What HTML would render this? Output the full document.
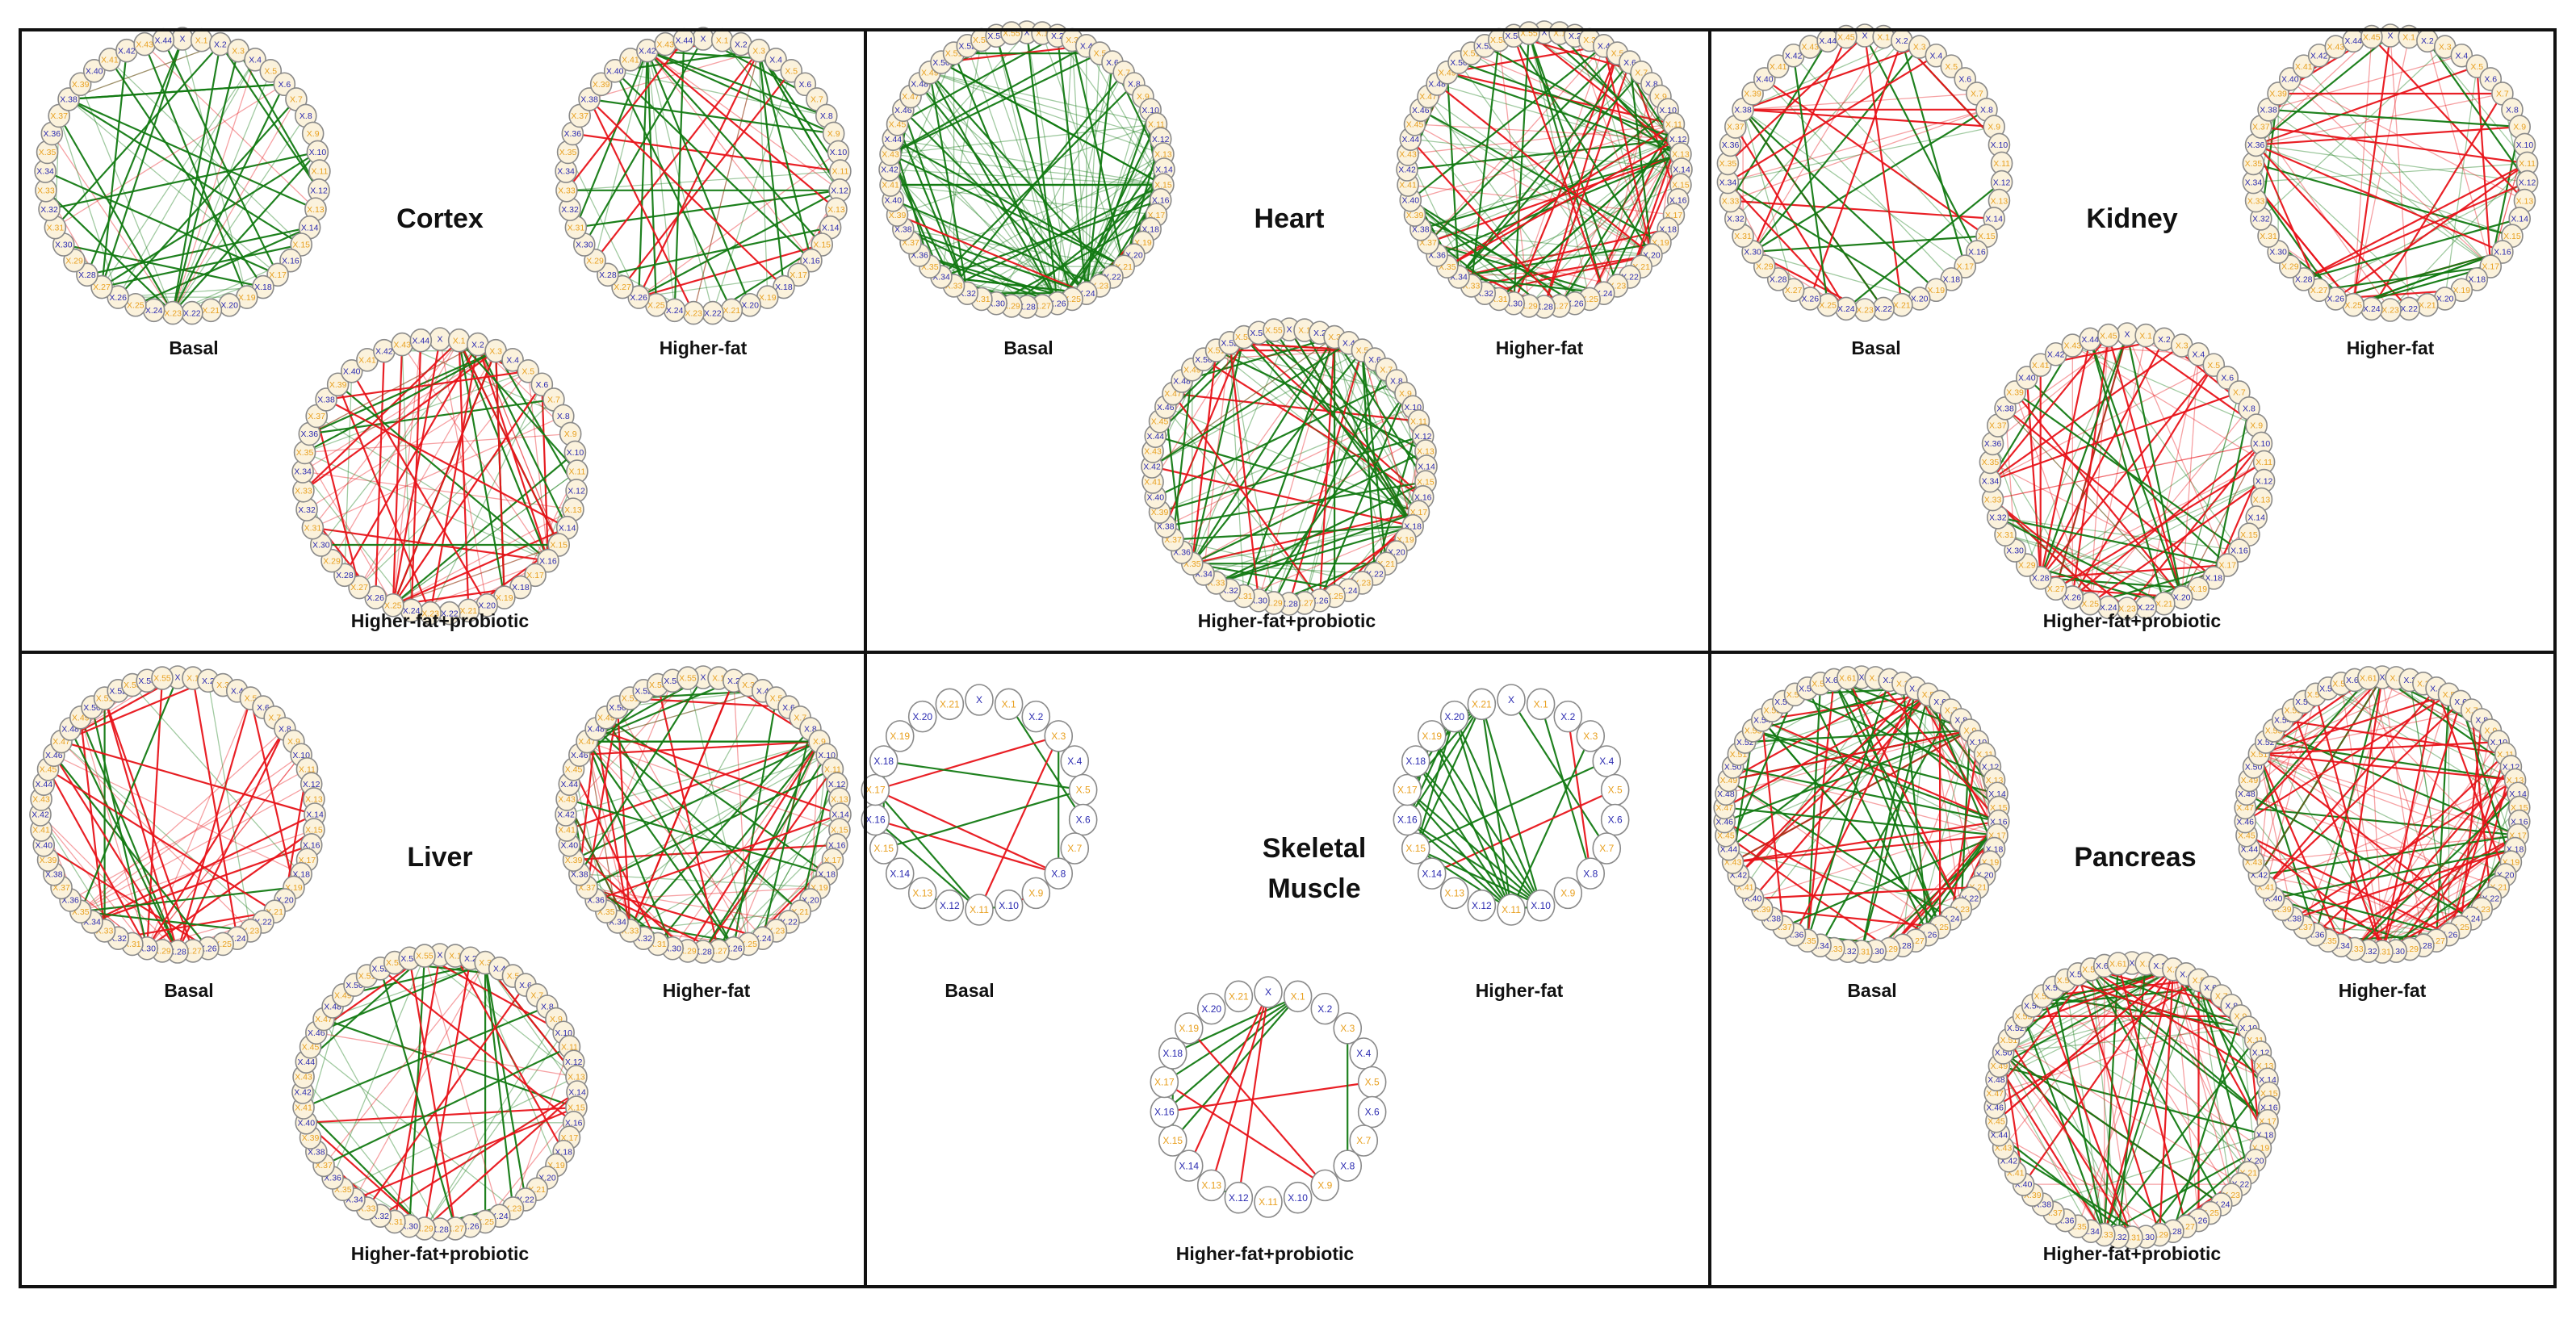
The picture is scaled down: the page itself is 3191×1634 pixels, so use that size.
<!DOCTYPE html>
<html><head><meta charset="utf-8"><style>
html,body{margin:0;padding:0;background:#fff}
svg{display:block}
text{font-family:"Liberation Sans",Arial,sans-serif}
</style></head><body>
<svg id="s" width="3191" height="1634" viewBox="0 0 3191 1634" xmlns="http://www.w3.org/2000/svg">
<rect width="3191" height="1634" fill="#fff"/>
<g id="edges"></g><g id="nodes"></g>
<g fill="none" stroke="#111" stroke-width="4">
<rect x="25" y="37" width="3140" height="1557"/>
<line x1="1072" y1="37" x2="1072" y2="1594"/>
<line x1="2118" y1="37" x2="2118" y2="1594"/>
<line x1="25" y1="808" x2="3165" y2="808"/>
</g>
<g font-weight="bold" text-anchor="middle" fill="#111">
<text x="545" y="282" font-size="34">Cortex</text>
<text x="1597" y="282" font-size="34">Heart</text>
<text x="2641" y="282" font-size="34">Kidney</text>
<text x="545" y="1073" font-size="34">Liver</text>
<text x="1628" y="1062" font-size="34">Skeletal</text>
<text x="1628" y="1112" font-size="34">Muscle</text>
<text x="2645" y="1073" font-size="34">Pancreas</text>
<g font-size="23">
<text x="240" y="439">Basal</text><text x="871" y="439">Higher-fat</text><text x="545" y="777">Higher-fat+probiotic</text>
<text x="1274" y="439">Basal</text><text x="1907" y="439">Higher-fat</text><text x="1594" y="777">Higher-fat+probiotic</text>
<text x="2324" y="439">Basal</text><text x="2961" y="439">Higher-fat</text><text x="2641" y="777">Higher-fat+probiotic</text>
<text x="234" y="1235">Basal</text><text x="875" y="1235">Higher-fat</text><text x="545" y="1561">Higher-fat+probiotic</text>
<text x="1201" y="1235">Basal</text><text x="1882" y="1235">Higher-fat</text><text x="1567" y="1561">Higher-fat+probiotic</text>
<text x="2319" y="1235">Basal</text><text x="2951" y="1235">Higher-fat</text><text x="2641" y="1561">Higher-fat+probiotic</text>
</g></g>
</svg>
<script>
(function(){
var NS="http://www.w3.org/2000/svg";
var E=document.getElementById("edges"),N=document.getElementById("nodes");
function mk(t,a,p){var e=document.createElementNS(NS,t);for(var k in a)e.setAttribute(k,a[k]);p.appendChild(e);return e;}
function rng(s){return function(){s|=0;s=s+0x6D2B79F5|0;var t=Math.imul(s^s>>>15,1|s);t=t+Math.imul(t^t>>>7,61|t)^t;return((t^t>>>14)>>>0)/4294967296;};}
function pos(cx,cy,R,n){var p=[];for(var i=0;i<n;i++){var a=-Math.PI/2+i*2*Math.PI/n;p.push([cx+R*Math.cos(a),cy+R*Math.sin(a)]);}return p;}
function line(a,b,col,w,op){mk("line",{x1:a[0].toFixed(1),y1:a[1].toFixed(1),x2:b[0].toFixed(1),y2:b[1].toFixed(1),stroke:col,"stroke-width":w,"stroke-opacity":op},E);}
function nodes(p,rx,ry,fill,fs){for(var i=0;i<p.length;i++){mk("ellipse",{cx:p[i][0],cy:p[i][1],rx:rx,ry:ry,fill:fill,stroke:"#8a8a8a","stroke-width":1.6},N);
var t=mk("text",{x:p[i][0],y:p[i][1]+fs*0.35,"font-size":fs,"text-anchor":"middle",fill:(i%2?"#e8a020":"#2a2ab0")},N);t.textContent=i?("X."+i):"X";}}
function net(cx,cy,n,m,red,seed,hubs){
var r=rng(seed),p=pos(cx,cy,170,n),h=[];for(var k=0;k<hubs;k++)h.push(Math.floor(r()*n));
for(var j=0;j<m;j++){var a=r()<0.6?h[Math.floor(r()*h.length)]:Math.floor(r()*n),b=Math.floor(r()*n);
if(Math.abs(a-b)<3)continue;var isr=r()<red,strong=r()<0.55;
line(p[a],p[b],isr?"#e8141a":"#137a13",strong?2.2:1.3,strong?0.95:0.4);}
nodes(p,13,14,"#fbf2dc",10.5);}
net(226,218,45,65,0.15,11,5);net(871,218,45,70,0.35,12,4);net(545,590,45,100,0.5,13,5);
net(1272,210,56,160,0.05,21,6);net(1913,210,56,140,0.4,22,5);net(1597,578,56,150,0.3,23,5);
net(2310,214,46,55,0.6,31,4);net(2961,214,46,85,0.5,32,5);net(2635,584,46,100,0.65,33,5);
net(220,1009,56,65,0.65,41,4);net(871,1009,56,120,0.5,42,5);net(545,1353,56,70,0.6,43,4);
net(2306,1009,62,140,0.5,51,6);net(2951,1009,62,140,0.6,52,6);net(2641,1363,62,140,0.5,53,6);
var G="#137a13",R="#e8141a";
function skel(cx,cy,ed){var p=pos(cx,cy,130,22);ed.forEach(function(e){line(p[e[0]],p[e[1]],e[2]?R:G,2.2,0.95);});nodes(p,17,19,"#fff",12);}
skel(1213,997,[[19,20],[1,6],[3,17,1],[3,11,1],[3,8],[3,4],[18,5],[18,15],[17,16],[17,8,1],[17,11],[16,8,1],[15,5],[16,11],[14,13],[13,12],[11,10],[10,9,1],[9,8,1]]);
var hf=[[0,7],[1,8],[2,8,1],[3,11],[4,15],[5,14,1],[11,10]];
[21,20,19,18,17,16,15].forEach(function(a){hf.push([a,10]);hf.push([a,11]);});
[20,19,18,17,16,15].forEach(function(a){hf.push([21,a]);});[19,18,17,16,15].forEach(function(a){hf.push([20,a]);});
hf.push([19,17],[18,16],[17,15],[19,16]);
skel(1872,997,hf);
skel(1571,1359,[[1,18],[1,17],[1,16],[1,15],[0,14,1],[0,13,1],[0,12,1],[19,9,1],[17,9,1],[16,5,1],[2,3,1],[3,4,1],[3,8],[4,5],[5,6],[6,7],[7,8],[18,19],[18,17],[17,16],[16,15],[18,15],[14,13],[13,12]]);
})();
</script>
</body></html>
